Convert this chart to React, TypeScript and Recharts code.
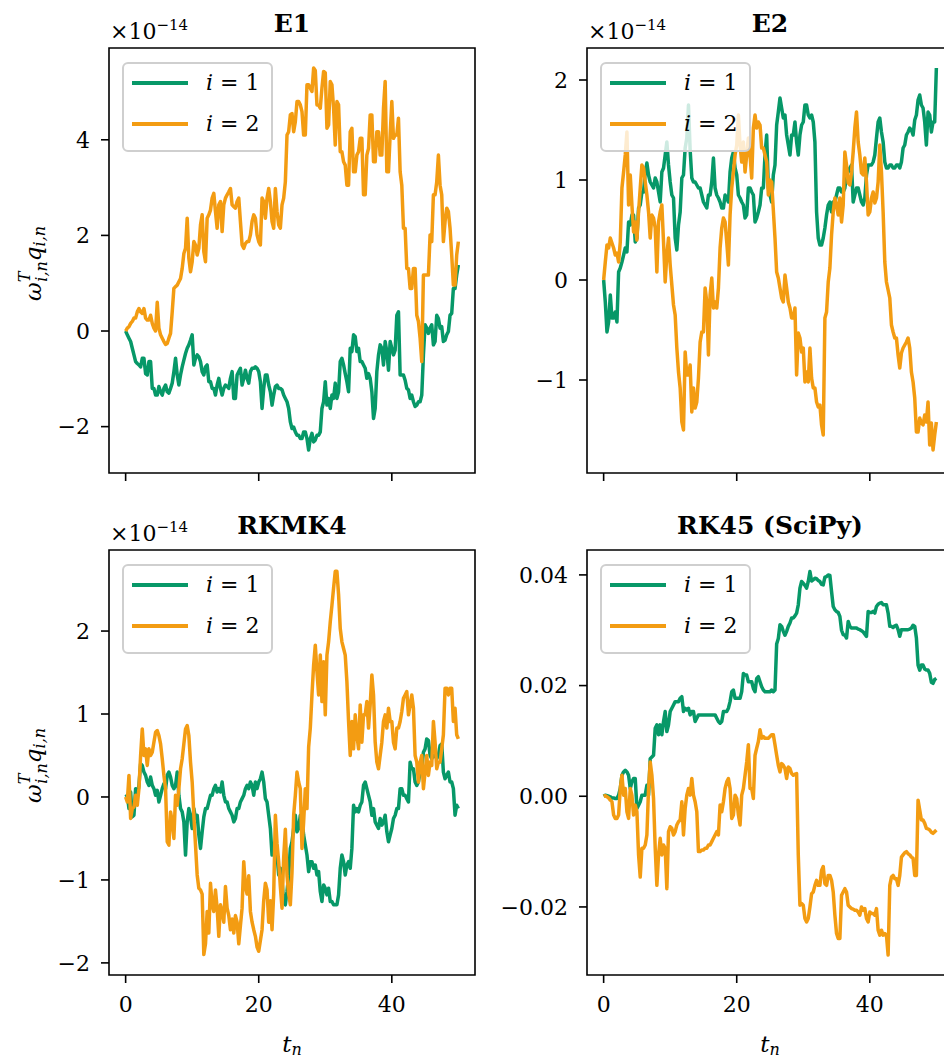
import React from 'react';
import { LineChart, Line, XAxis, YAxis, ReferenceArea, Legend, Label } from 'recharts';

// sample times t_n (one row = two time units)
const tValues = [
  0, 0.25, 0.5, 0.75, 1, 1.25, 1.5, 1.75,
  2, 2.25, 2.5, 2.75, 3, 3.25, 3.5, 3.75,
  4, 4.25, 4.5, 4.75, 5, 5.25, 5.5, 5.75,
  6, 6.25, 6.5, 6.75, 7, 7.25, 7.5, 7.75,
  8, 8.25, 8.5, 8.75, 9, 9.25, 9.5, 9.75,
  10, 10.25, 10.5, 10.75, 11, 11.25, 11.5, 11.75,
  12, 12.25, 12.5, 12.75, 13, 13.25, 13.5, 13.75,
  14, 14.25, 14.5, 14.75, 15, 15.25, 15.5, 15.75,
  16, 16.25, 16.5, 16.75, 17, 17.25, 17.5, 17.75,
  18, 18.25, 18.5, 18.75, 19, 19.25, 19.5, 19.75,
  20, 20.25, 20.5, 20.75, 21, 21.25, 21.5, 21.75,
  22, 22.25, 22.5, 22.75, 23, 23.25, 23.5, 23.75,
  24, 24.25, 24.5, 24.75, 25, 25.25, 25.5, 25.75,
  26, 26.25, 26.5, 26.75, 27, 27.25, 27.5, 27.75,
  28, 28.25, 28.5, 28.75, 29, 29.25, 29.5, 29.75,
  30, 30.25, 30.5, 30.75, 31, 31.25, 31.5, 31.75,
  32, 32.25, 32.5, 32.75, 33, 33.25, 33.5, 33.75,
  34, 34.25, 34.5, 34.75, 35, 35.25, 35.5, 35.75,
  36, 36.25, 36.5, 36.75, 37, 37.25, 37.5, 37.75,
  38, 38.25, 38.5, 38.75, 39, 39.25, 39.5, 39.75,
  40, 40.25, 40.5, 40.75, 41, 41.25, 41.5, 41.75,
  42, 42.25, 42.5, 42.75, 43, 43.25, 43.5, 43.75,
  44, 44.25, 44.5, 44.75, 45, 45.25, 45.5, 45.75,
  46, 46.25, 46.5, 46.75, 47, 47.25, 47.5, 47.75,
  48, 48.25, 48.5, 48.75, 49, 49.25, 49.5, 49.75,
  50,
];

// E1, in units of 1e-14
const e1Mode1 = [
  0, -0.08, -0.15, -0.22, -0.36, -0.5, -0.64, -0.68,
  -0.71, -0.75, -0.57, -0.57, -0.89, -0.92, -0.64, -0.64,
  -1.2, -1.2, -1.34, -1.34, -1.16, -1.27, -1.34, -1.2,
  -1.13, -1.27, -1.3, -1.2, -1.09, -0.85, -0.57, -0.92,
  -1.13, -0.92, -0.75, -0.61, -0.47, -0.36, -0.29, -0.19,
  -0.08, -0.71, -0.57, -0.5, -0.54, -0.64, -0.85, -0.92,
  -0.75, -0.71, -1.06, -1.06, -1.2, -1.2, -1.34, -1.13,
  -0.99, -1.2, -1.34, -1.2, -1.13, -1.16, -1.2, -0.99,
  -0.85, -1.41, -1.41, -0.92, -0.85, -0.78, -1.13, -0.99,
  -0.82, -0.99, -1.09, -0.85, -0.78, -0.78, -0.75, -0.78,
  -0.85, -1.06, -1.62, -1.2, -0.92, -0.92, -1.13, -1.27,
  -1.55, -1.34, -1.16, -1.13, -1.2, -1.2, -1.23, -1.34,
  -1.41, -1.48, -1.62, -1.9, -2.04, -2.01, -2.11, -2.18,
  -2.18, -2.25, -2.25, -2.11, -2.11, -2.25, -2.49, -2.25,
  -2.14, -2.32, -2.28, -2.18, -2.18, -2.11, -1.62, -1.48,
  -1.06, -1.55, -1.41, -1.62, -1.34, -1.41, -1.09, -1.41,
  -1.27, -0.64, -0.57, -0.71, -0.89, -1.06, -1.27, -0.36,
  -0.43, -0.08, -0.12, -0.43, -0.36, -0.64, -0.64, -0.71,
  -0.78, -0.99, -0.89, -0.99, -1.27, -1.83, -1.62, -0.85,
  -0.5, -0.29, -0.36, -0.71, -0.22, -0.43, -0.82, -0.22,
  -0.36, -0.5, -0.4, 0.33, 0.4, -0.92, -0.92, -0.92,
  -1.03, -1.2, -1.23, -1.41, -1.34, -1.48, -1.58, -1.55,
  -1.48, -1.48, -1.34, -0.5, 0.13, 0.06, -0.05, 0.06,
  0.13, -0.29, -0.22, 0.33, 0.26, 0.06, 0.09, -0.22,
  -0.19, -0.08, -0.01, 0.33, 0.37, 0.89, 0.89, 1.17,
  1.38,
];
const e1Mode2 = [
  0, 0.06, 0.09, 0.16, 0.2, 0.27, 0.27, 0.4,
  0.47, 0.4, 0.37, 0.47, 0.27, 0.23, 0.23, 0.33,
  0.16, 0.06, 0.0, 0.6, 0.06, -0.08, -0.15, -0.22,
  -0.28, -0.26, -0.15, -0.05, 0.4, 0.89, 0.93, 0.96,
  1.03, 1.1, 1.31, 1.62, 1.73, 2.36, 1.52, 1.24,
  1.45, 1.87, 1.8, 1.59, 1.73, 2.22, 2.43, 1.66,
  1.45, 2.36, 2.43, 2.53, 2.78, 2.88, 2.5, 2.15,
  2.64, 2.71, 2.08, 2.64, 2.78, 2.85, 2.91, 2.98,
  2.64, 2.6, 2.57, 2.71, 2.78, 2.29, 1.8, 1.73,
  1.83, 1.87, 1.87, 2.01, 2.29, 2.43, 2.36, 2.01,
  1.87, 1.8, 2.78, 2.71, 2.36, 2.78, 2.98, 2.71,
  2.29, 2.15, 2.98, 2.5, 2.22, 2.15, 2.64, 2.78,
  3.12, 4.1, 4.17, 4.52, 4.55, 4.17, 4.38, 4.8,
  4.8, 4.73, 4.59, 4.1, 4.1, 5.15, 5.15, 5.08,
  5.01, 5.5, 5.45, 4.73, 4.73, 4.66, 5.08, 5.43,
  5.4, 4.24, 4.31, 5.22, 5.15, 4.66, 3.89, 4.8,
  4.73, 3.75, 3.75, 3.54, 3.47, 3.05, 3.05, 4.17,
  4.24, 3.33, 3.33, 3.68, 3.75, 4.03, 4.03, 2.85,
  2.85, 3.68, 3.82, 4.52, 4.52, 3.54, 3.54, 4.17,
  4.17, 3.68, 3.68, 4.66, 5.22, 3.33, 3.33, 4.1,
  4.8, 4.03, 4.1, 4.1, 4.45, 3.33, 3.05, 2.15,
  2.15, 1.31, 1.31, 0.89, 0.89, 1.31, 1.31, 0.33,
  0.2, -0.15, -0.64, 1.17, 1.17, 1.17, 1.17, 2.01,
  1.87, 2.85, 2.85, 3.12, 3.68, 3.05, 2.85, 1.87,
  2.29, 2.57, 2.5, 2.15, 1.59, 0.96, 0.96, 1.59,
  1.87,
];

// E2, in units of 1e-14
const e2Mode1 = [
  0, -0.22, -0.52, -0.42, -0.15, -0.38, -0.38, -0.32,
  -0.42, 0.08, 0.12, 0.18, 0.25, 0.32, 0.28, 0.58,
  0.55, 0.65, 0.65, 0.38, 0.42, 0.72, 0.75, 0.88,
  0.88, 1.08, 1.17, 1.05, 0.98, 0.95, 0.92, 1.02,
  0.98, 0.88, 0.78, 1.08, 1.12, 1.25, 1.38, 1.15,
  0.98, 0.85, 0.82, 0.42, 0.3, 0.55, 0.68, 1.02,
  1.05, 1.32, 1.42, 1.75, 1.3, 1.02, 0.98, 0.98,
  0.95, 0.92, 0.92, 0.85, 0.78, 0.75, 0.72, 0.85,
  0.85, 0.98, 1.22, 0.92, 0.85, 0.82, 0.78, 0.72,
  0.72, 0.85, 0.82, 0.78, 1.08, 1.22, 1.28, 1.12,
  1.05, 0.85, 0.82, 0.78, 0.75, 0.62, 0.65, 0.92,
  0.92, 0.88, 0.85, 0.58, 0.62, 0.68, 0.75, 0.92,
  0.92, 1.25, 1.45, 0.92, 0.85, 0.78, 1.05, 1.15,
  1.55, 1.68, 1.82, 1.72, 1.62, 1.65, 1.45, 1.35,
  1.25, 1.45, 1.45, 1.58, 1.38, 1.25, 1.45, 1.55,
  1.58, 1.75, 1.75, 1.65, 1.62, 1.65, 1.58, 1.38,
  0.68, 0.42, 0.35, 0.35, 0.42, 0.52, 0.65, 0.75,
  0.78, 0.68, 0.78, 0.78, 0.85, 0.92, 0.92, 0.88,
  0.88, 0.92, 1.05, 1.08, 1.12, 1.15, 0.78, 0.85,
  0.92, 0.92, 0.85, 0.78, 0.75, 0.82, 1.05, 1.15,
  1.15, 1.15, 1.18, 1.25, 1.42, 1.58, 1.62, 1.48,
  1.38, 1.18, 1.12, 1.12, 1.15, 1.15, 1.12, 1.12,
  1.15, 1.15, 1.12, 1.18, 1.32, 1.35, 1.45, 1.48,
  1.52, 1.5, 1.45, 1.6, 1.65, 1.8, 1.85, 1.75,
  1.72, 1.58, 1.35, 1.68, 1.65, 1.48, 1.58, 1.58,
  2.12,
];
const e2Mode2 = [
  0, 0.18, 0.35, 0.32, 0.42, 0.37, 0.32, 0.25,
  0.27, 0.18, 0.38, 0.92, 1.08, 1.25, 1.48, 0.75,
  1.05, 0.75, 0.48, 0.58, 0.4, 0.68, 0.92, 1.15,
  1.12, 0.98, 0.85, 0.68, 0.42, 0.65, 0.62, 0.52,
  0.08, 0.58, 0.68, 0.75, 0.38, -0.02, 0.25, 0.42,
  0.15, -0.05, -0.25, -0.35, -0.68, -0.92, -1.08, -1.42,
  -1.5, -0.72, -0.95, -0.95, -0.85, -1.32, -1.08, -1.28,
  -1.22, -0.98, -0.62, -0.52, -0.52, -0.08, -0.22, -0.75,
  -0.15, 0.02, -0.28, -0.22, -0.28, -0.08, 0.32, 0.52,
  0.62, 0.58, 0.38, 0.15, 0.65, 0.92, 1.08, 1.25,
  1.35, 1.65, 1.35, 1.18, 1.38, 1.08, 1.25, 1.42,
  1.25, 1.02, 1.52, 1.65, 1.52, 1.58, 1.55, 1.32,
  1.32, 1.25, 1.18, 0.85, 1.0, 0.98, 0.7, 0.42,
  0.08, 0.02, -0.08, -0.18, -0.22, 0.05, -0.08, -0.22,
  -0.28, -0.38, -0.38, -0.28, -0.95, -0.53, -0.58, -0.72,
  -0.68, -1.02, -0.92, -1.02, -0.68, -0.98, -1.08, -1.08,
  -1.22, -1.27, -1.25, -1.45, -1.55, -0.38, -0.32, -0.02,
  0.12, 0.45, 0.68, 0.82, 0.75, 0.65, 0.82, 0.58,
  0.75, 1.28, 1.15, 0.97, 0.95, 1.08, 1.28, 1.52,
  1.68, 1.38, 1.25, 1.07, 1.05, 1.22, 0.98, 0.65,
  0.68, 0.82, 0.88, 0.77, 0.82, 0.98, 1.35, 1.08,
  0.68, 0.18, -0.02, -0.1, -0.18, -0.45, -0.52, -0.58,
  -0.58, -0.75, -0.88, -0.73, -0.68, -0.65, -0.62, -0.58,
  -0.68, -0.92, -1.02, -1.18, -1.52, -1.52, -1.38, -1.43,
  -1.45, -1.35, -1.42, -1.22, -1.65, -1.43, -1.7, -1.55,
  -1.42,
];

// RKMK4, in units of 1e-14
const rkmk4Mode1 = [
  0, 0.02, -0.14, 0.06, -0.24, -0.22, 0.1, 0.02,
  0.14, 0.4, 0.38, 0.3, 0.26, 0.18, 0.14, 0.24,
  0.14, 0.1, 0.02, 0.08, -0.06, 0.02, 0.1, 0.16,
  0.1, 0.26, 0.3, 0.24, 0.14, 0.1, 0.14, 0.3,
  0.02, -0.14, -0.18, -0.3, -0.7, -0.3, -0.14, -0.24,
  -0.38, -0.14, -0.26, -0.22, -0.46, -0.62, -0.42, -0.24,
  -0.14, -0.14, -0.06, 0.02, 0.02, 0.1, 0.14, 0.06,
  0.1, 0.06, 0.18, 0.02, -0.06, -0.06, -0.14, -0.18,
  -0.22, -0.3, -0.26, -0.14, -0.14, -0.06, -0.02, 0.02,
  0.1, 0.14, 0.1, 0.18, 0.14, 0.02, 0.18, 0.1,
  0.18, 0.22, 0.3, 0.18, -0.02, -0.06, -0.22, -0.38,
  -0.7, -0.66, -0.54, -0.7, -0.94, -0.86, -1.02, -1.26,
  -1.3, -1.14, -0.94, -0.62, -0.54, -0.38, -0.22, -0.42,
  -0.38, -0.22, -0.26, -0.46, -0.58, -0.7, -0.9, -0.78,
  -0.78, -0.86, -0.82, -0.94, -0.9, -1.14, -1.26, -1.06,
  -1.1, -1.18, -1.1, -1.26, -1.26, -1.3, -1.3, -1.3,
  -1.18, -0.86, -0.7, -0.78, -0.94, -0.82, -0.78, -0.86,
  -0.62, -0.1, -0.18, -0.14, -0.18, -0.1, -0.06, 0.14,
  0.18, 0.1, 0.02, -0.06, -0.22, -0.14, -0.3, -0.34,
  -0.38, -0.26, -0.34, -0.3, -0.22, -0.42, -0.54, -0.46,
  -0.38, -0.26, -0.22, -0.14, -0.14, 0.1, 0.1, 0.02,
  0.02, -0.02, -0.06, 0.42, 0.34, 0.34, 0.18, 0.14,
  0.18, 0.3, 0.34, 0.54, 0.58, 0.7, 0.68, 0.5,
  0.46, 0.5, 0.5, 0.46, 0.5, 0.62, 0.64, 0.3,
  0.22, 0.26, 0.3, 0.18, 0.18, 0.1, -0.22, -0.1,
  -0.14,
];
const rkmk4Mode2 = [
  0, -0.06, 0.26, -0.26, -0.14, -0.12, 0.02, -0.1,
  0.1, 0.5, 0.82, 0.5, 0.58, 0.38, 0.58, 0.5,
  0.54, 0.66, 0.78, 0.8, 0.74, 0.64, 0.46, 0.26,
  0.1, -0.54, -0.58, -0.18, -0.3, -0.5, 0.02, -0.1,
  0.1, 0.34, 0.46, 0.64, 0.82, 0.86, 0.74, 0.42,
  0.18, -0.22, -0.58, -0.94, -1.1, -1.12, -1.17, -1.9,
  -1.77, -1.38, -1.64, -1.04, -1.3, -1.38, -1.12, -1.34,
  -1.68, -1.3, -1.38, -1.51, -1.08, -1.34, -1.43, -1.6,
  -1.47, -1.64, -1.43, -1.51, -1.77, -1.55, -1.34, -0.78,
  -1.08, -1.17, -0.95, -1.38, -1.51, -1.6, -1.68, -1.81,
  -1.86, -1.73, -1.6, -1.25, -1.04, -1.12, -1.51, -1.25,
  -1.6, -1.17, -0.22, -0.56, -0.78, -1.08, -1.34, -0.73,
  -0.39, -0.95, -1.17, -1.3, -0.91, -0.22, 0.02, 0.3,
  0.18, 0.1, -0.62, -0.3, 0.1, -0.14, 0.6, 0.83,
  1.23, 1.59, 1.83, 1.51, 1.23, 1.71, 1.15, 1.63,
  0.99, 1.71, 1.87, 2.11, 2.31, 2.52, 2.72, 2.72,
  2.44, 2.03, 1.87, 1.79, 1.71, 1.39, 0.91, 0.5,
  0.91, 0.58, 0.99, 0.75, 0.58, 1.11, 0.66, 0.99,
  0.99, 1.15, 0.83, 1.11, 1.47, 1.23, 0.66, 0.42,
  0.34, 0.5, 0.66, 0.91, 0.99, 0.83, 1.07, 0.91,
  0.91, 0.66, 0.58, 0.83, 0.83, 0.91, 1.03, 1.19,
  1.23, 1.27, 0.99, 1.11, 1.23, 1.07, 0.5, 0.42,
  0.18, 0.42, 0.5, 0.1, 0.3, 0.5, 0.26, 0.42,
  0.38, 0.91, 0.66, 0.34, 0.42, 0.42, 0.58, 0.75,
  1.31, 1.31, 1.23, 1.31, 1.31, 0.91, 1.07, 0.75,
  0.7,
];

// RK45 (SciPy), plain values
const rk45Mode1 = [
  0, 0.0002, 0.0001, 0, -0.0001, -0.0003, -0.0003, -0.0004,
  -0.0004, 0.0002, 0.0014, 0.0038, 0.0044, 0.0047, 0.0044, 0.0038,
  0.0014, 0.0026, 0.0032, 0.0032, -0.0022, -0.0016, -0.001, 0.0002,
  0.0002, 0.0002, 0.002, 0.0002, 0.0068, 0.0071, 0.0074, 0.0123,
  0.0129, 0.0111, 0.0129, 0.0111, 0.0135, 0.0153, 0.0117, 0.0129,
  0.0153, 0.0159, 0.0165, 0.0171, 0.0171, 0.0171, 0.0177, 0.018,
  0.0153, 0.0159, 0.0156, 0.0159, 0.0147, 0.0153, 0.0153, 0.0135,
  0.0141, 0.0147, 0.0147, 0.0147, 0.0147, 0.0147, 0.0147, 0.0147,
  0.0147, 0.0147, 0.0147, 0.0147, 0.0141, 0.0135, 0.0132, 0.0135,
  0.0153, 0.0153, 0.0153, 0.0159, 0.0171, 0.0189, 0.0192, 0.0177,
  0.0177, 0.0177, 0.0177, 0.0189, 0.0222, 0.0219, 0.0219, 0.0207,
  0.0207, 0.0207, 0.0195, 0.0189, 0.0213, 0.0216, 0.0207, 0.0198,
  0.0192, 0.0189, 0.0189, 0.0189, 0.0189, 0.0192, 0.0189, 0.0192,
  0.0275, 0.0285, 0.031, 0.0307, 0.0298, 0.0291, 0.0298, 0.0307,
  0.0313, 0.0322, 0.0322, 0.0326, 0.0331, 0.0346, 0.0376, 0.0388,
  0.0385, 0.0381, 0.0376, 0.0388, 0.0406, 0.0389, 0.0391, 0.0394,
  0.0393, 0.039, 0.0388, 0.0383, 0.0382, 0.0396, 0.0397, 0.04,
  0.0399, 0.037, 0.0343, 0.0337, 0.0334, 0.0332, 0.0325, 0.03,
  0.0292, 0.0291, 0.0286, 0.0316, 0.0307, 0.0304, 0.0304, 0.0304,
  0.0304, 0.0302, 0.0301, 0.0299, 0.0297, 0.0293, 0.0289, 0.0334,
  0.0332, 0.0332, 0.0334, 0.0331, 0.0343, 0.0347, 0.0349, 0.035,
  0.0346, 0.0346, 0.0346, 0.0331, 0.0307, 0.0307, 0.0305, 0.0308,
  0.0309, 0.0301, 0.0289, 0.0301, 0.0301, 0.0301, 0.0301, 0.0301,
  0.0302, 0.0304, 0.0309, 0.0307, 0.0286, 0.0237, 0.0228, 0.0237,
  0.0237, 0.023, 0.0228, 0.0228, 0.0222, 0.0206, 0.0204, 0.0211,
  0.0213,
];
const rk45Mode2 = [
  0, 0.0001, -0.0001, -0.0003, -0.0007, -0.001, -0.0034, -0.004,
  -0.004, -0.0034, 0.0014, 0.0038, 0.0002, 0.0014, -0.0028, -0.004,
  0.0014, 0.0002, -0.0034, -0.0016, -0.0028, -0.0106, -0.0146, -0.0094,
  -0.0094, -0.0088, -0.007, 0.0014, 0.0062, 0.0038, -0.0004, -0.0094,
  -0.0161, -0.0106, -0.0076, -0.0106, -0.0088, -0.0094, -0.0167, -0.0064,
  -0.0055, -0.0058, -0.007, -0.0064, -0.0052, -0.0046, -0.0043, -0.001,
  -0.007, -0.0022, 0.0002, 0.0014, 0.0002, 0.0032, 0.0002, -0.001,
  -0.0028, -0.01, -0.01, -0.0097, -0.0097, -0.0094, -0.0094, -0.0088,
  -0.0088, -0.0082, -0.0076, -0.007, -0.0064, -0.007, -0.0016, -0.0028,
  -0.001, 0.0014, 0.0026, 0.0032, 0.0014, -0.004, -0.0034, 0.0002,
  -0.0004, -0.0034, -0.0052, 0.0002, 0.0014, 0.0038, 0.0062, 0.0093,
  0.0014, 0.0014, -0.0004, 0.0074, 0.0087, 0.0099, 0.012, 0.0105,
  0.0108, 0.0105, 0.0105, 0.0105, 0.0108, 0.0111, 0.0111, 0.0093,
  0.0074, 0.0056, 0.0044, 0.0059, 0.0056, 0.005, 0.0032, 0.0053,
  0.005, 0.0041, 0.0038, 0.004, 0.0041, -0.0106, -0.0197, -0.0194,
  -0.0197, -0.0221, -0.0227, -0.0221, -0.02, -0.0176, -0.0173, -0.0161,
  -0.0152, -0.0161, -0.0161, -0.0134, -0.0127, -0.0158, -0.0161, -0.0143,
  -0.0143, -0.0152, -0.0173, -0.0215, -0.0248, -0.0257, -0.0257, -0.0179,
  -0.0173, -0.0167, -0.0173, -0.0197, -0.02, -0.0203, -0.0204, -0.0206,
  -0.0206, -0.0209, -0.0215, -0.02, -0.0206, -0.0203, -0.0221, -0.0227,
  -0.0209, -0.0212, -0.0212, -0.0215, -0.0203, -0.0242, -0.0251, -0.0242,
  -0.0251, -0.0248, -0.0251, -0.0287, -0.0161, -0.0146, -0.0143, -0.0149,
  -0.0149, -0.0161, -0.0143, -0.011, -0.0106, -0.0102, -0.01, -0.0104,
  -0.0106, -0.011, -0.0112, -0.0143, -0.0143, -0.0007, -0.0025, -0.0043,
  -0.0043, -0.0049, -0.0058, -0.0059, -0.0061, -0.0065, -0.0067, -0.0064,
  -0.0061,
];

const seriesNames = ['i = 1', 'i = 2'];
const xTicks = [0, 20, 40];
const e1Ticks = [-2, 0, 2, 4];
const e2Ticks = [-1, 0, 1, 2];
const rkmk4Ticks = [-2, -1, 0, 1, 2];
const rk45Ticks = [-0.02, 0, 0.02, 0.04];

const GREEN = '#079868';
const ORANGE = '#f39c12';
const FONT = '"DejaVu Serif", serif';
const PLOT_W = 366;
const PLOT_H = 425;
const X_DOMAIN: [number, number] = [-2.5, 52.5];
const LINE_W = 1.6;
const SERIES_W = 3.5;

const withMinus = (s: string) => s.replace('-', '\u2212');
const intLabel = (v: number) => withMinus(String(v));
const fixedLabel = (v: number) => withMinus(v.toFixed(2));

function LegendBox({ payload }: { payload?: any[] }) {
  return (
    <div
      style={{
        boxSizing: 'border-box',
        position: 'relative',
        width: 151,
        height: 90,
        border: '2px solid #cfcfcf',
        borderRadius: 6,
        background: 'rgba(255,255,255,0.8)',
      }}
    >
      {(payload || []).map((item, k) => {
        const [sym, ...rest] = String(item.value).split(' ');
        const cy = k === 0 ? 19 : 60;
        return (
          <React.Fragment key={String(item.value)}>
            <div
              style={{
                position: 'absolute',
                left: 8,
                top: cy - 1.6,
                width: 56,
                height: 3.2,
                background: item.color,
              }}
            />
            <div
              style={{
                position: 'absolute',
                left: 82,
                top: cy - 13,
                height: 26,
                lineHeight: '26px',
                fontSize: 22,
                whiteSpace: 'pre',
                color: '#000',
              }}
            >
              <i>{sym}</i>
              {' ' + rest.join(' ')}
            </div>
          </React.Fragment>
        );
      })}
    </div>
  );
}

type PanelProps = {
  title: string;
  mode1: number[];
  mode2: number[];
  yDomain: [number, number];
  yTicks: number[];
  yFormat: (v: number) => string;
  exponent?: string;
  left: number;
  top: number;
  axisW: number;
  padTop: number;
  axisH: number;
  xLabels: boolean;
  yLabel: boolean;
};

function Panel(props: PanelProps) {
  const { title, mode1, mode2, yDomain, yTicks, yFormat, exponent, left, top, axisW, padTop, axisH, xLabels, yLabel } =
    props;
  const rows = tValues.map((t, k) => ({ t, m1: mode1[k], m2: mode2[k] }));
  const width = axisW + PLOT_W + 4;
  const height = padTop + PLOT_H + axisH;
  const midX = axisW + PLOT_W / 2;

  // title, offset exponent and (bottom row) the t_n axis title
  const decorations = () => (
    <g>
      <text x={midX} y={padTop - 25} textAnchor="middle" dominantBaseline="central" fontSize={25} fontWeight="bold" fill="#000">
        {title}
      </text>
      {exponent && (
        <text x={axisW + 1} y={padTop - 9} fontSize={22} fill="#000">
          ×10
          <tspan fontSize={15} dy={-9}>
            {exponent}
          </tspan>
        </text>
      )}
      {xLabels && (
        <text
          x={midX}
          y={padTop + PLOT_H + 69}
          textAnchor="middle"
          dominantBaseline="central"
          fontSize={23}
          fontStyle="italic"
          fill="#000"
        >
          t
          <tspan fontSize={16} dy={5}>
            n
          </tspan>
        </text>
      )}
    </g>
  );

  const yTitle = () => {
    const cx = 25;
    const cy = padTop + PLOT_H / 2 + 3;
    return (
      <text
        x={cx}
        y={cy}
        transform={`rotate(-90 ${cx} ${cy})`}
        textAnchor="middle"
        dominantBaseline="central"
        fontSize={23}
        fontStyle="italic"
        fill="#000"
      >
        ω
        <tspan fontSize={16} dy={-9}>
          T
        </tspan>
        <tspan fontSize={16} dx={-10} dy={17}>
          i,n
        </tspan>
        <tspan dy={-8}>q</tspan>
        <tspan fontSize={16} dy={6}>
          i,n
        </tspan>
      </text>
    );
  };

  return (
    <div style={{ position: 'absolute', left, top }}>
      <LineChart width={width} height={height} data={rows} margin={{ top: padTop, right: 4, bottom: 0, left: 0 }}>
        <XAxis
          type="number"
          dataKey="t"
          domain={X_DOMAIN}
          allowDataOverflow
          ticks={xTicks}
          height={axisH}
          tickSize={8}
          tickMargin={13}
          axisLine={false}
          tickLine={{ stroke: '#000', strokeWidth: LINE_W }}
          tick={{ fill: '#000', fontSize: 22 }}
          tickFormatter={(v: number) => (xLabels ? intLabel(v) : '')}
        >
          <Label content={decorations} />
        </XAxis>
        <YAxis
          type="number"
          domain={yDomain}
          allowDataOverflow
          ticks={yTicks}
          width={axisW}
          tickSize={8}
          tickMargin={11}
          axisLine={false}
          tickLine={{ stroke: '#000', strokeWidth: LINE_W }}
          tick={{ fill: '#000', fontSize: 22 }}
          tickFormatter={yFormat}
        >
          {yLabel && <Label content={yTitle} />}
        </YAxis>
        <ReferenceArea
          x1={X_DOMAIN[0]}
          x2={X_DOMAIN[1]}
          y1={yDomain[0]}
          y2={yDomain[1]}
          fill="none"
          fillOpacity={0}
          stroke="#000"
          strokeWidth={LINE_W}
          ifOverflow="visible"
        />
        <Line
          type="linear"
          dataKey="m1"
          name={seriesNames[0]}
          stroke={GREEN}
          strokeWidth={SERIES_W}
          strokeLinejoin="round"
          dot={false}
          activeDot={false}
          isAnimationActive={false}
        />
        <Line
          type="linear"
          dataKey="m2"
          name={seriesNames[1]}
          stroke={ORANGE}
          strokeWidth={SERIES_W}
          strokeLinejoin="round"
          dot={false}
          activeDot={false}
          isAnimationActive={false}
        />
        <Legend
          layout="vertical"
          align="center"
          verticalAlign="middle"
          width={151}
          height={90}
          wrapperStyle={{ left: axisW + 13, top: padTop + 14, width: 151, height: 90, margin: 0, padding: 0 }}
          content={(p: any) => <LegendBox payload={p.payload} />}
        />
      </LineChart>
    </div>
  );
}

export default function App() {
  return (
    <div
      style={{
        position: 'absolute',
        left: 0,
        top: 0,
        width: 944,
        height: 1061,
        overflow: 'hidden',
        background: '#fff',
        fontFamily: FONT,
      }}
    >
      <Panel
        title="E1"
        mode1={e1Mode1}
        mode2={e1Mode2}
        yDomain={[-2.97, 5.92]}
        yTicks={e1Ticks}
        yFormat={intLabel}
        exponent="−14"
        left={8}
        top={8}
        axisW={101}
        padTop={40}
        axisH={20}
        xLabels={false}
        yLabel
      />
      <Panel
        title="E2"
        mode1={e2Mode1}
        mode2={e2Mode2}
        yDomain={[-1.93, 2.32]}
        yTicks={e2Ticks}
        yFormat={intLabel}
        exponent="−14"
        left={480}
        top={8}
        axisW={107}
        padTop={40}
        axisH={20}
        xLabels={false}
        yLabel={false}
      />
      <Panel
        title="RKMK4"
        mode1={rkmk4Mode1}
        mode2={rkmk4Mode2}
        yDomain={[-2.146, 2.977]}
        yTicks={rkmk4Ticks}
        yFormat={intLabel}
        exponent="−14"
        left={8}
        top={498}
        axisW={101}
        padTop={52}
        axisH={86}
        xLabels
        yLabel
      />
      <Panel
        title="RK45 (SciPy)"
        mode1={rk45Mode1}
        mode2={rk45Mode2}
        yDomain={[-0.0323, 0.0445]}
        yTicks={rk45Ticks}
        yFormat={fixedLabel}
        left={480}
        top={498}
        axisW={107}
        padTop={52}
        axisH={86}
        xLabels
        yLabel={false}
      />
    </div>
  );
}
